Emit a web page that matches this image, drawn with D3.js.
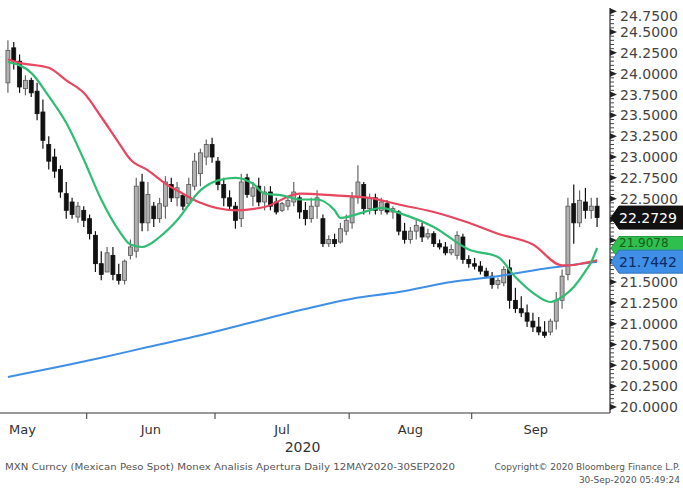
<!DOCTYPE html>
<html><head><meta charset="utf-8">
<script src="https://cdn.jsdelivr.net/npm/d3@7"></script>
<style>html,body{margin:0;padding:0;background:#fff;}svg{display:block;}</style>
</head><body>
<script>
// ---- data ----
const firstDay = new Date(2020, 4, 12), lastDay = new Date(2020, 8, 30);
const opens = [23.89,24.31,24.15,23.82,23.92,23.79,23.54,23.15,23.00,22.85,
  22.56,22.46,22.28,22.36,22.26,22.06,21.72,21.62,21.82,21.59,
  21.52,21.82,21.87,22.70,22.21,22.41,22.26,22.41,22.67,22.51,
  22.54,22.44,22.65,22.80,23.00,23.15,22.95,22.67,22.51,22.41,
  22.26,22.75,22.53,22.65,22.46,22.58,22.46,22.36,22.41,22.46,
  22.51,22.36,22.26,22.41,22.26,21.96,22.01,21.98,22.11,22.21,
  22.51,22.67,22.38,22.51,22.36,22.44,22.34,22.34,22.11,22.01,
  22.11,22.16,22.04,22.08,21.96,21.92,21.85,21.82,22.04,21.77,
  21.72,21.69,21.63,21.57,21.47,21.49,21.67,21.28,21.18,21.13,
  21.03,20.96,20.90,20.90,21.03,21.28,21.59,22.44,22.21,22.46,
  22.36,22.41];
const highs = [24.40,24.38,24.23,23.98,23.95,23.89,23.69,23.25,23.10,22.90,
  22.70,22.51,22.46,22.41,22.31,22.11,21.87,21.92,21.92,21.72,
  21.77,22.01,22.75,22.80,22.70,22.46,22.51,22.77,22.75,22.70,
  22.56,22.75,23.05,23.10,23.21,23.23,23.00,22.75,22.60,22.46,
  22.80,22.80,22.70,22.75,22.65,22.65,22.51,22.46,22.51,22.70,
  22.54,22.46,22.51,22.60,22.31,22.06,22.08,22.21,22.31,22.58,
  22.90,22.70,22.56,22.56,22.51,22.48,22.41,22.36,22.21,22.16,
  22.26,22.21,22.14,22.11,22.01,21.98,21.95,22.11,22.08,21.82,
  21.79,21.75,21.67,21.62,21.55,21.69,21.77,21.43,21.33,21.23,
  21.13,21.08,21.03,21.06,21.38,21.65,22.51,22.67,22.60,22.63,
  22.51,22.51];
const lows = [23.77,24.05,23.77,23.74,23.72,23.44,23.10,22.85,22.75,22.51,
  22.26,22.26,22.21,22.16,22.01,21.62,21.52,21.62,21.52,21.47,
  21.47,21.77,21.79,22.11,22.11,22.16,22.21,22.26,22.46,22.41,
  22.36,22.41,22.60,22.65,22.90,22.93,22.60,22.41,22.36,22.14,
  22.16,22.51,22.41,22.41,22.36,22.36,22.31,22.34,22.36,22.41,
  22.26,22.18,22.21,22.26,21.92,21.92,21.92,21.96,22.06,22.14,
  22.44,22.31,22.31,22.31,22.31,22.31,22.26,22.06,21.96,21.96,
  22.01,21.98,22.01,21.92,21.89,21.82,21.82,21.77,21.72,21.67,
  21.65,21.59,21.55,21.42,21.42,21.45,21.18,21.13,21.08,20.96,
  20.90,20.86,20.83,20.86,20.93,21.18,21.52,21.96,22.16,22.26,
  22.26,22.16];
const closes = [24.28,24.15,23.84,23.92,23.77,23.52,23.20,22.95,22.83,22.58,
  22.36,22.31,22.41,22.24,22.08,21.72,21.59,21.85,21.59,21.52,
  21.75,21.92,22.65,22.21,22.55,22.26,22.44,22.70,22.51,22.63,
  22.41,22.67,22.95,23.05,23.15,23.00,22.67,22.51,22.41,22.24,
  22.70,22.55,22.63,22.46,22.58,22.41,22.34,22.44,22.48,22.58,
  22.34,22.26,22.41,22.51,21.96,22.01,21.96,22.14,22.24,22.51,
  22.70,22.38,22.51,22.36,22.46,22.34,22.38,22.11,22.01,22.11,
  22.18,22.04,22.08,21.96,21.92,21.85,21.89,22.06,21.77,21.72,
  21.69,21.63,21.57,21.47,21.52,21.65,21.28,21.18,21.13,21.03,
  20.96,20.90,20.86,21.03,21.28,21.57,22.41,22.21,22.48,22.36,
  22.41,22.2729];

// moving averages, read at selected trading-day positions
const redIdx  = [0,2,7,10,13,16,19,21,24,27,30,33,39,44,50,56,62,67,73,79,84,90,95,96,99,101];
const redVals = [24.17,24.13,24.07,23.92,23.77,23.48,23.17,22.97,22.84,22.68,22.56,22.45,22.36,22.40,22.56,22.54,22.51,22.43,22.34,22.21,22.08,21.95,21.70,21.70,21.73,21.76];
const greenIdx  = [0,4,7,10,13,16,19,21,23,26,29,33,36,39,42,44,47,50,53,56,57,62,64,67,73,79,84,87,90,93,95,97,99,100,101];
const greenVals = [24.14,24.01,23.73,23.41,22.97,22.49,22.12,21.95,21.92,22.04,22.24,22.60,22.72,22.75,22.68,22.56,22.54,22.49,22.49,22.36,22.27,22.36,22.39,22.33,22.16,21.89,21.80,21.56,21.37,21.26,21.32,21.44,21.63,21.74,21.9078];
const blueIdx  = [0,16,24,33,42,50,59,67,76,84,93,101];
const blueVals = [20.36,20.59,20.72,20.86,21.02,21.16,21.30,21.38,21.50,21.57,21.67,21.7442];

const yTickVals = [20.00,20.25,20.50,20.75,21.00,21.25,21.50,21.75,22.00,22.25,22.50,22.75,23.00,23.25,23.50,23.75,24.00,24.25,24.50,24.75];
const monthNames = ["May","Jun","Jul","Aug","Sep"];
const yearLabel = "2020";
const lastValues = [22.2729, 21.9078, 21.7442]; // price, 20d, 200d
const footerLeft = "MXN Curncy (Mexican Peso Spot) Monex Analisis Apertura  Daily 12MAY2020-30SEP2020";
const footerRight1 = "Copyright\u00A9 2020 Bloomberg Finance L.P.";
const footerRight2 = "30-Sep-2020 05:49:24";

// ---- layout ----
const W = 683, H = 491;
const plotL = 5, plotR = 600, axisX = 610, axisTop = 8, axisBottom = 413;
const days = d3.timeDay.range(firstDay, d3.timeDay.offset(lastDay, 1)).filter(d => d.getDay() % 6 !== 0);
const idx = d3.range(days.length);

const svg = d3.select("body").append("svg").attr("width", W).attr("height", H)
  .style("font-family", "'DejaVu Sans', Verdana, sans-serif");

const x = d3.scaleBand().domain(idx).range([plotL, plotR]).padding(0);
const y = d3.scaleLinear().domain([20, 24.5]).range([407, 32]);
const step = x.step();
const cx = i => x(i) + step / 2;

// candles
const g = svg.append("g");
idx.forEach(i => {
  const up = closes[i] >= opens[i];
  g.append("line").attr("x1", cx(i)).attr("x2", cx(i))
    .attr("y1", y(highs[i])).attr("y2", y(lows[i]))
    .attr("stroke", up ? "#666" : "#111").attr("stroke-width", 1.2);
  const top = y(Math.max(opens[i], closes[i])), bot = y(Math.min(opens[i], closes[i]));
  g.append("rect").attr("x", cx(i) - step * 0.34).attr("width", step * 0.68)
    .attr("y", top).attr("height", Math.max(1.5, bot - top))
    .attr("fill", up ? "#b0b0b0" : "#111").attr("stroke", up ? "#555" : "#111").attr("stroke-width", 0.8);
});

// lines
function drawLine(ix, vals, color, w) {
  const pts = ix.map((k, j) => [cx(k), y(vals[j])]);
  svg.append("path").attr("d", d3.line().curve(d3.curveMonotoneX)(pts))
    .attr("fill", "none").attr("stroke", color).attr("stroke-width", w).attr("stroke-linejoin", "round");
}
drawLine(blueIdx, blueVals, "#3f8fe6", 2);
drawLine(redIdx, redVals, "#e8455f", 2.2);
drawLine(greenIdx, greenVals, "#2ebd72", 2.2);

// bottom axis
svg.append("line").attr("x1", 0).attr("x2", axisX).attr("y1", axisBottom).attr("y2", axisBottom)
  .attr("stroke", "#777").attr("stroke-width", 1.5);
const monthStarts = idx.filter(i => i > 0 && days[i].getMonth() !== days[i - 1].getMonth());
monthStarts.forEach(i => {
  svg.append("line").attr("x1", x(i)).attr("x2", x(i)).attr("y1", axisBottom).attr("y2", axisBottom + 6)
    .attr("stroke", "#555").attr("stroke-width", 1.2);
});
const bounds = monthStarts.map(i => x(i));
const firstW = bounds[1] - bounds[0];
const edges = [bounds[0] - firstW, ...bounds, plotR];
monthNames.forEach((m, k) => {
  svg.append("text").attr("x", (edges[k] + edges[k + 1]) / 2).attr("y", 434)
    .attr("text-anchor", "middle").attr("font-size", 13).attr("fill", "#333").text(m);
});
svg.append("text").attr("x", (plotL + plotR) / 2).attr("y", 452).attr("text-anchor", "middle")
  .attr("font-size", 14).attr("fill", "#333").text(yearLabel);

// right axis
svg.append("line").attr("x1", axisX).attr("x2", axisX).attr("y1", axisTop).attr("y2", axisBottom)
  .attr("stroke", "#555").attr("stroke-width", 1.5);
d3.range(20, 24.80, 0.05).forEach(v => {
  const yy = y(v);
  if (yy < axisTop) return;
  svg.append("line").attr("x1", axisX).attr("x2", axisX + 4).attr("y1", yy).attr("y2", yy)
    .attr("stroke", "#444").attr("stroke-width", 1);
});
yTickVals.forEach(v => {
  const yy = y(v);
  svg.append("path").attr("d", `M${axisX},${yy - 3}L${axisX + 7},${yy}L${axisX},${yy + 3}Z`).attr("fill", "#222");
  // tick labels hidden behind the last-value boxes are not drawn
  const covered = lastValues.some(lv => Math.abs(y(lv) - yy) < 14);
  if (covered) return;
  svg.append("text").attr("x", 620).attr("y", Math.max(yy, 16)).attr("dy", "0.36em")
    .attr("font-size", 14).attr("fill", "#444").text(d3.format(".4f")(v));
});

// last-value labels
const labelFill = ["#111", "#2fbf4f", "#3f8fe6"];
const labelText = ["#fff", "#1a5a1a", "#0d2a66"];
lastValues.forEach((v, k) => {
  const yy = y(v), h = 11.5;
  svg.append("path").attr("d", `M${axisX + 1},${yy}L${axisX + 9},${yy - h}L${W + 10},${yy - h}L${W + 10},${yy + h}L${axisX + 9},${yy + h}Z`)
    .attr("fill", labelFill[k]).attr("stroke", k === 0 ? "#111" : d3.color(labelFill[k]).darker(0.6)).attr("stroke-width", 1);
  svg.append("text").attr("x", 619).attr("y", yy).attr("dy", k === 1 ? "-0.05em" : "0.36em").attr("font-size", k === 1 ? 12 : 14)
    .attr("fill", labelText[k]).text(d3.format(".4f")(v));
});

// footer
svg.append("text").attr("x", 5).attr("y", 470).attr("font-size", 9).attr("fill", "#555")
  .attr("textLength", 450).attr("lengthAdjust", "spacingAndGlyphs").text(footerLeft);
svg.append("text").attr("x", 680).attr("y", 470).attr("text-anchor", "end").attr("font-size", 9).attr("fill", "#555")
  .text(footerRight1);
svg.append("text").attr("x", 680).attr("y", 483).attr("text-anchor", "end").attr("font-size", 9).attr("fill", "#555")
  .text(footerRight2);
</script>
</body></html>
